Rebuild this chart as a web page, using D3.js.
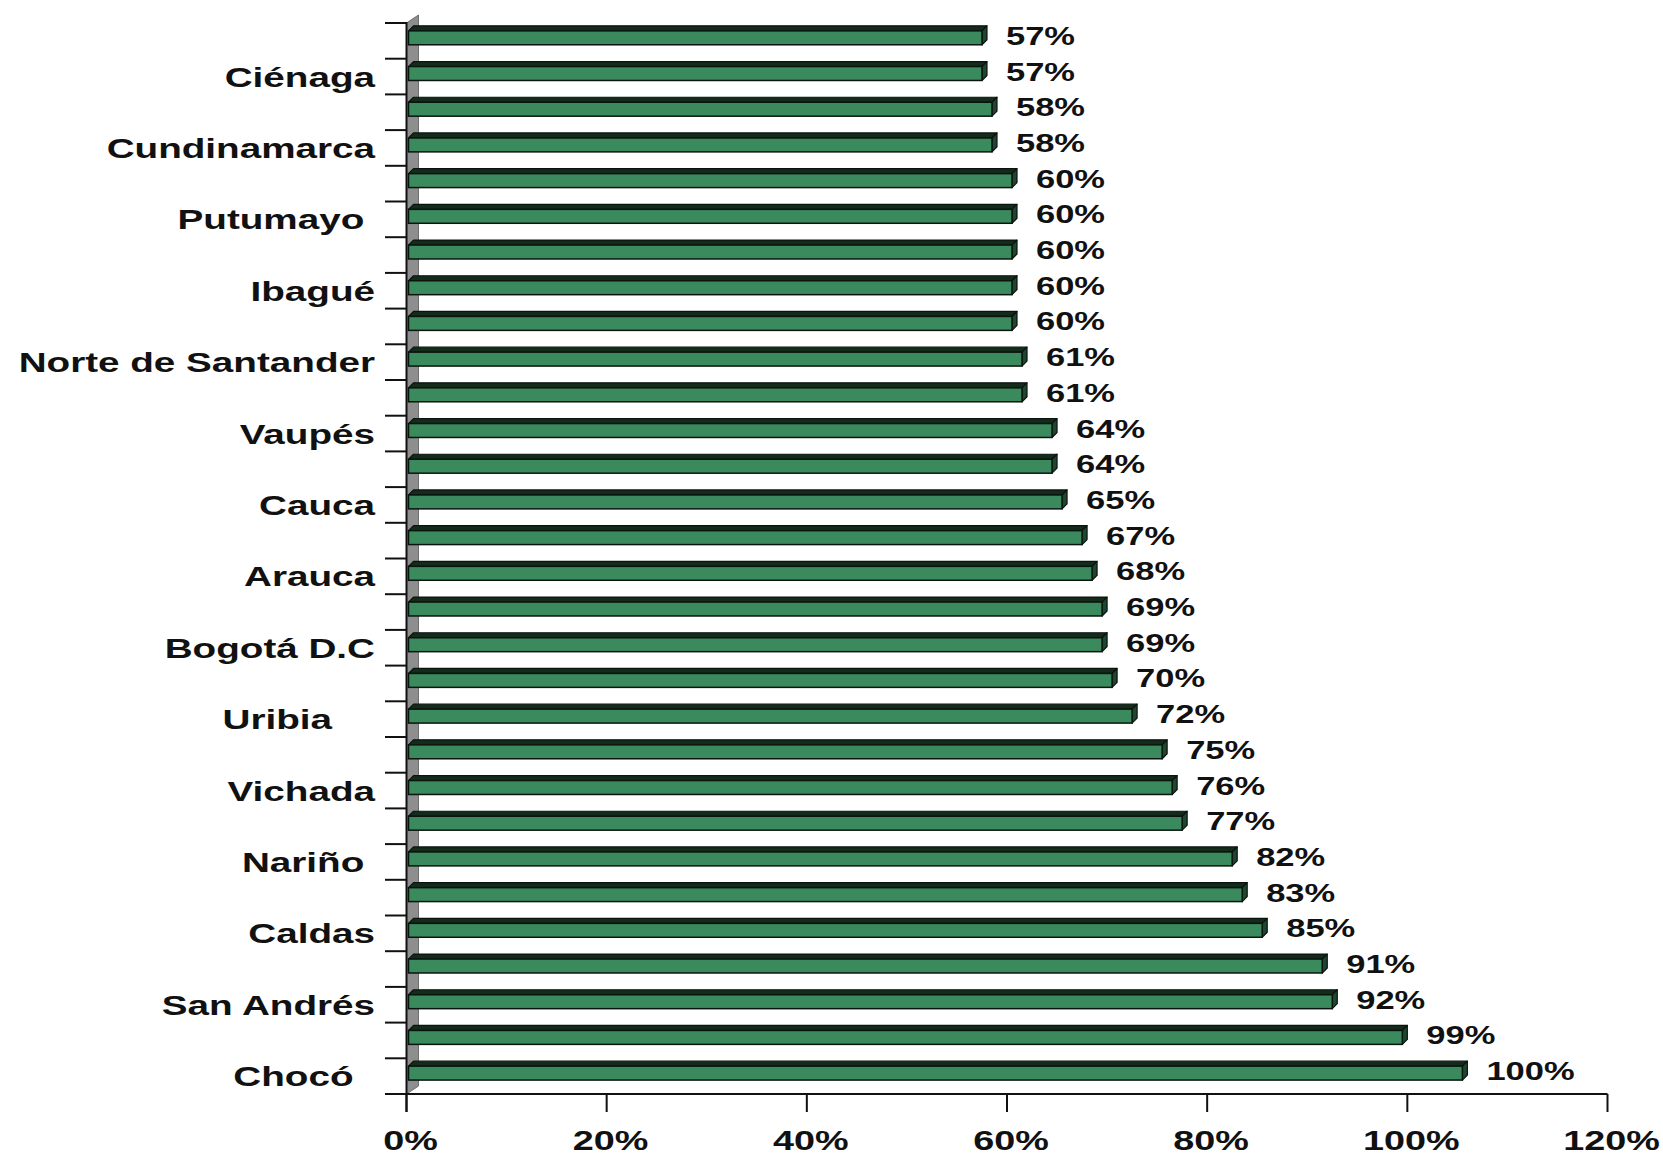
<!DOCTYPE html>
<html>
<head>
<meta charset="utf-8">
<script src="https://cdn.jsdelivr.net/npm/d3@7"></script>
<style>
  html, body { margin: 0; padding: 0; background: #ffffff; }
  svg { display: block; }
  text { font-family: "Liberation Sans", Arial, sans-serif; white-space: pre; }
</style>
</head>
<body>
<svg id="chart" width="1663" height="1156"></svg>
<script>
// ---- data (top to bottom) ----
const categories = ["", "Ciénaga", "", "Cundinamarca", "", "Putumayo ", "", "Ibagué", "",
  "Norte de Santander", "", "Vaupés", "", "Cauca", "", "Arauca", "", "Bogotá D.C", "",
  "Uribia    ", "", "Vichada", "", "Nariño ", "", "Caldas", "", "San Andrés", "", "Chocó  "];
const values = [57, 57, 58, 58, 60, 60, 60, 60, 60, 61, 61, 64, 64, 65, 67, 68, 69, 69, 70,
  72, 75, 76, 77, 82, 83, 85, 91, 92, 99, 105];
const valueLabels = ["57%", "57%", "58%", "58%", "60%", "60%", "60%", "60%", "60%", "61%", "61%",
  "64%", "64%", "65%", "67%", "68%", "69%", "69%", "70%", "72%", "75%", "76%", "77%", "82%",
  "83%", "85%", "91%", "92%", "99%", "100%"];
const xTicks = [0, 20, 40, 60, 80, 100, 120];
const xTickLabels = ["0%", "20%", "40%", "60%", "80%", "100%", "120%"];

// ---- layout ----
const svg = d3.select("#chart");
const x = d3.scaleLinear().domain([0, 120]).range([406.5, 1607.5]);
const y = d3.scaleBand().domain(d3.range(categories.length)).range([23, 1094]).padding(0);
const bw = y.bandwidth();
const depth = { dx: 5, dy: 5 };      // bar 3D depth
const wallDepth = { dx: 12, dy: 8 }; // wall 3D depth
const shift = 5;                      // bars sit mid-depth
const stretch = 1.38;

const colFront = "#3b8a5e", colTop = "#142b1c", colSide = "#1f4631", colEdge = "#0a140e";

// wall (grey side strip)
const x0 = x(0);
svg.append("path")
  .attr("d", `M${x0},${y.range()[0]} L${x0 + wallDepth.dx},${y.range()[0] - wallDepth.dy} L${x0 + wallDepth.dx},${y.range()[1] - wallDepth.dy} L${x0},${y.range()[1]} Z`)
  .attr("fill", "#8e8e8e").attr("stroke", "#6e6e6e").attr("stroke-width", 1);

// bars
const bars = svg.append("g");
values.forEach((v, i) => {
  const yt = y(i) + bw * 0.22;
  const yb = y(i) + bw * 0.61;
  const xl = x(0) + 2;
  const xr = x(v) + shift;
  const g = bars.append("g");
  // top face
  g.append("path")
    .attr("d", `M${xl},${yt} L${xl + depth.dx},${yt - depth.dy} L${xr + depth.dx},${yt - depth.dy} L${xr},${yt} Z`)
    .attr("fill", colTop).attr("stroke", colEdge).attr("stroke-width", 1.2).attr("stroke-linejoin", "round");
  // right face
  g.append("path")
    .attr("d", `M${xr},${yt} L${xr + depth.dx},${yt - depth.dy} L${xr + depth.dx},${yb - depth.dy} L${xr},${yb} Z`)
    .attr("fill", colSide).attr("stroke", colEdge).attr("stroke-width", 1.2).attr("stroke-linejoin", "round");
  // front face
  g.append("rect")
    .attr("x", xl).attr("y", yt).attr("width", xr - xl).attr("height", yb - yt)
    .attr("fill", colFront).attr("stroke", colEdge).attr("stroke-width", 1.5);
});

// value labels
values.forEach((v, i) => {
  const xr = x(v) + shift + depth.dx;
  svg.append("text")
    .attr("transform", `translate(${xr + 19},${y(i) + bw / 2 + 4}) scale(${stretch},1)`)
    .attr("font-size", 25).attr("font-weight", "bold").attr("fill", "#111")
    .text(valueLabels[i]);
});

// y axis line + category ticks
svg.append("line").attr("x1", x0).attr("x2", x0).attr("y1", y.range()[0] - 1).attr("y2", 1112)
  .attr("stroke", "#111").attr("stroke-width", 2);
const bounds = d3.range(categories.length + 1).map(k => y.range()[0] + k * bw);
svg.append("g").selectAll("line").data(bounds).join("line")
  .attr("x1", 385).attr("x2", x0).attr("y1", d => d).attr("y2", d => d)
  .attr("stroke", "#111").attr("stroke-width", 2);

// category labels
categories.forEach((c, i) => {
  if (!c) return;
  svg.append("text")
    .attr("transform", `translate(375,${y(i) + bw / 2 + 10}) scale(${stretch},1)`)
    .attr("text-anchor", "end")
    .attr("font-size", 28).attr("font-weight", "bold").attr("fill", "#111")
    .text(c);
});

// x axis
svg.append("line").attr("x1", x0).attr("x2", x(120)).attr("y1", 1094).attr("y2", 1094)
  .attr("stroke", "#111").attr("stroke-width", 2);
svg.append("g").selectAll("line").data(xTicks).join("line")
  .attr("x1", d => x(d)).attr("x2", d => x(d)).attr("y1", 1094).attr("y2", 1112)
  .attr("stroke", "#111").attr("stroke-width", 2);
xTicks.forEach((t, i) => {
  svg.append("text")
    .attr("transform", `translate(${x(t) + 4},1150) scale(1.35,1)`)
    .attr("text-anchor", "middle")
    .attr("font-size", 28).attr("font-weight", "bold").attr("fill", "#111")
    .text(xTickLabels[i]);
});
</script>
</body>
</html>
